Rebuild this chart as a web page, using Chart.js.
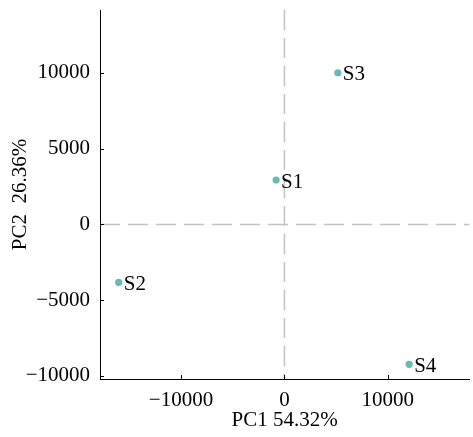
<!DOCTYPE html>
<html>
<head>
<meta charset="utf-8">
<script src="https://cdn.jsdelivr.net/npm/chart.js@4/dist/chart.umd.min.js"></script>
<style>
html,body{margin:0;padding:0;background:#fff;overflow:hidden;}
#wrap{width:473px;height:437px;position:relative;}
</style>
</head>
<body>
<div id="wrap"><canvas id="c"></canvas></div>
<script>
const sampleNames = ["S1", "S2", "S3", "S4"];
const pc1Values = [-800, -16030, 5170, 12070];
const pc2Values = [2930, -3830, 10010, -9230];
const xTickValues = [-10000, 0, 10000];
const yTickValues = [-10000, -5000, 0, 5000, 10000];
const xTitle = "PC1 54.32%";
const yTitle = "PC2  26.36%";

const FONT = "'Liberation Serif', 'Times New Roman', serif";
const pointColor = "#69b9b4";

const points = sampleNames.map((n, i) => ({x: pc1Values[i], y: pc2Values[i], label: n}));

const overlay = {
  id: 'overlay',
  beforeDatasetsDraw(chart) {
    const {ctx, chartArea, scales} = chart;
    const x0 = scales.x.getPixelForValue(0);
    const y0 = scales.y.getPixelForValue(0);
    ctx.save();
    ctx.strokeStyle = '#c3c3c3';
    ctx.lineWidth = 1.5;
    ctx.setLineDash([20, 8]);
    ctx.beginPath();
    ctx.moveTo(x0, chartArea.top);
    ctx.lineTo(x0, chartArea.bottom);
    ctx.stroke();
    ctx.beginPath();
    ctx.moveTo(chartArea.left, y0);
    ctx.lineTo(chartArea.right, y0);
    ctx.stroke();
    ctx.setLineDash([]);
    ctx.strokeStyle = '#000';
    ctx.lineWidth = 1;
    scales.x.ticks.forEach(t => {
      const px = Math.round(scales.x.getPixelForValue(t.value)) + 0.5;
      ctx.beginPath();
      ctx.moveTo(px, chartArea.bottom);
      ctx.lineTo(px, chartArea.bottom - 4);
      ctx.stroke();
    });
    scales.y.ticks.forEach(t => {
      const py = Math.round(scales.y.getPixelForValue(t.value)) + 0.5;
      ctx.beginPath();
      ctx.moveTo(chartArea.left, py);
      ctx.lineTo(chartArea.left + 4, py);
      ctx.stroke();
    });
    ctx.restore();
  },
  afterDatasetsDraw(chart) {
    const {ctx} = chart;
    const meta = chart.getDatasetMeta(0);
    ctx.save();
    ctx.fillStyle = '#000';
    ctx.font = "21px " + FONT;
    ctx.textAlign = 'left';
    ctx.textBaseline = 'middle';
    meta.data.forEach((el, i) => {
      ctx.fillText(sampleNames[i], el.x + 5, el.y + 2);
    });
    ctx.restore();
  }
};

new Chart(document.getElementById('c'), {
  type: 'scatter',
  data: {
    datasets: [{
      data: points,
      backgroundColor: pointColor,
      borderColor: pointColor,
      pointRadius: 3.6,
      pointHoverRadius: 3.6,
      borderWidth: 0
    }]
  },
  options: {
    responsive: true,
    maintainAspectRatio: false,
    animation: false,
    events: [],
    layout: {padding: {top: 10, right: 0, left: 0, bottom: 0}},
    plugins: {legend: {display: false}, tooltip: {enabled: false}},
    scales: {
      x: {
        type: 'linear',
        min: -17840,
        max: 17900,
        afterBuildTicks: s => { s.ticks = xTickValues.map(v => ({value: v})); },
        afterFit: s => { s.height = 58; s.paddingLeft = 0; s.paddingRight = 0; },
        grid: {display: false, drawTicks: false},
        border: {display: true, color: '#000', width: 1},
        ticks: {
          color: '#000',
          font: {family: FONT, size: 21},
          padding: 9,
          maxRotation: 0,
          callback: v => (v < 0 ? '\u2212' + Math.abs(v) : String(v))
        },
        title: {display: true, text: xTitle, color: '#000', font: {family: FONT, size: 21}, padding: {top: 0, bottom: 4}}
      },
      y: {
        type: 'linear',
        min: -10200,
        max: 14150,
        afterBuildTicks: s => { s.ticks = yTickValues.map(v => ({value: v})); },
        afterFit: s => { s.width = 100; s.paddingTop = 0; s.paddingBottom = 0; },
        grid: {display: false, drawTicks: false},
        border: {display: true, color: '#000', width: 1},
        ticks: {
          color: '#000',
          font: {family: FONT, size: 21},
          padding: 10,
          callback: v => (v < 0 ? '\u2212' + Math.abs(v) : String(v))
        },
        title: {display: true, text: yTitle, color: '#000', font: {family: FONT, size: 21}, padding: {top: 8, bottom: 0}}
      }
    }
  },
  plugins: [overlay]
});
</script>
</body>
</html>
